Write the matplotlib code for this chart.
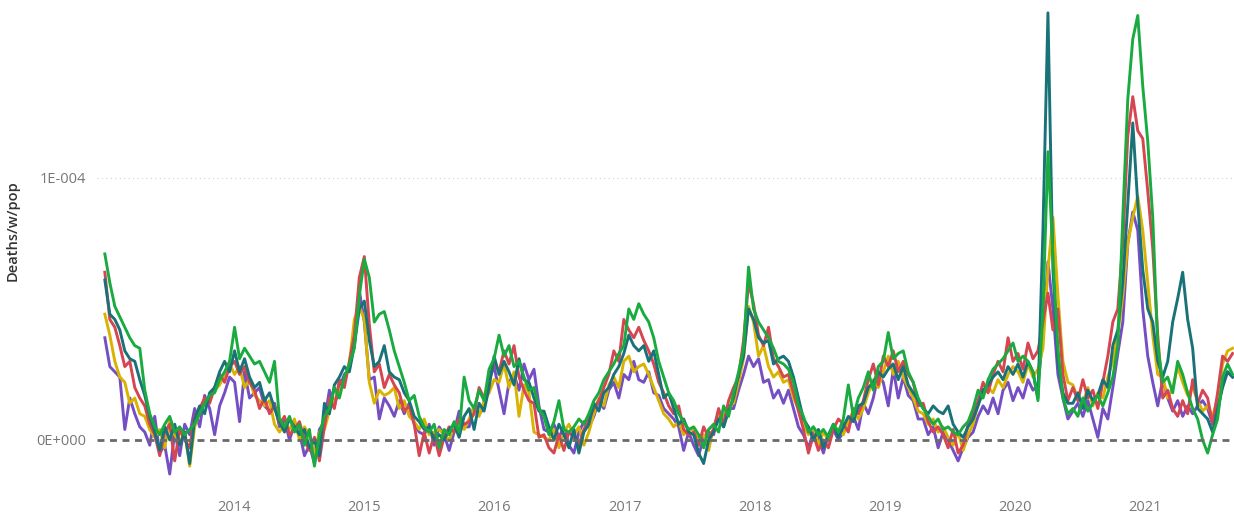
import numpy as np
import pandas as pd
import matplotlib
matplotlib.use("Agg")
import matplotlib.pyplot as plt

# biweekly samples starting first week of 2013, values in units of 1e-5 deaths per week per pop
dates = pd.date_range("2013-01-04", periods=227, freq="14D")

green = [
    7.1, 6.0, 5.1, 4.7, 4.3, 3.9, 3.6, 3.5, 1.9, 1.0,
    0.5, 0.2, 0.6, 0.9, 0.3, 0.5, 0.2, 0.4,
    0.6, 1.0, 1.4, 1.7, 1.8, 2.3, 2.6, 3.0,
    4.3, 3.1, 3.5, 3.2, 2.9, 3.0, 2.6, 2.2, 3.0,
    0.8, 0.5, 0.9, 0.3, 0.6, -0.2, 0.4, -1.0, 0.2,
    0.9, 1.2, 2.0, 1.6, 2.4, 2.9, 3.5,
    5.5, 6.9, 6.2, 4.5, 4.8, 4.9, 4.2, 3.4,
    2.8, 2.2, 1.5, 1.7, 0.9, 0.5, 0.3, 0.6,
    -0.3, 0.4, 0.2, 0.7, 0.3, 2.4,
    1.5, 1.2, 1.9, 1.5, 2.7, 3.1, 4.0, 3.2, 3.6, 2.8, 3.0, 2.4, 1.9, 2.0, 1.2,
    0.9, 0.2, 0.7, 1.5, 0.4, 0.3, 0.5, 0.8, 0.6,
    1.0, 1.5, 1.8, 2.3, 2.6, 2.9, 3.3, 3.6, 5.0, 4.6, 5.2,
    4.8, 4.5, 3.9, 3.0, 2.4, 1.8, 1.5, 1.0, 0.7, 0.4,
    0.5, 0.2, -0.3, 0.4, 0.6, 0.3, 1.3, 0.9,
    1.8, 2.6, 3.5, 6.6, 5.0, 4.5, 4.2, 3.9, 3.5, 3.0, 2.9,
    2.7, 2.2, 1.3, 0.9, 0.3, 0.5, 0.2, 0.4, 0.1, 0.6, 0.3, 0.8, 2.1, 0.9, 1.6,
    2.0, 2.6, 1.9, 2.8, 3.0, 4.1, 3.1, 3.3, 3.4, 2.6, 2.2, 1.6,
    1.2, 0.9, 0.6, 0.8, 0.4, 0.5, 0.3, 0.2, 0.5, 0.7,
    1.2, 1.9, 1.6, 2.3, 2.7, 2.9, 3.1, 3.4, 3.7, 3.0, 3.2, 3.0, 2.6, 1.5,
    5.0, 11.0, 7.0, 3.5, 1.6, 1.0,
    1.2, 0.9, 1.6, 1.1, 1.4, 1.7, 1.3, 1.8, 2.4, 3.6,
    8.5, 13.0, 15.3, 16.2, 13.5, 11.4, 8.5,
    3.6, 2.2, 2.4, 1.8, 3.0, 2.5, 1.8, 1.2, 0.8, 0.0, -0.5, 0.2, 0.8, 2.4, 2.9, 2.5,
]

red = [
    6.4, 4.6, 4.3, 3.6, 2.8, 3.0, 2.0, 1.6, 1.3, 0.6,
    0.2, -0.6, 0.3, 0.6, -0.8, 0.4, 0.0, -0.3,
    0.9, 1.2, 1.6, 1.4, 2.0, 2.5, 2.2, 2.8,
    3.0, 2.5, 2.8, 2.2, 1.9, 1.2, 1.6, 1.0, 1.3,
    0.6, 0.9, 0.2, 0.4, 0.7, 0.0, -0.4, 0.1, -0.8,
    0.5, 1.6, 1.2, 2.3, 2.0, 3.0, 4.0,
    6.2, 7.0, 4.4, 2.6, 2.9, 2.0, 2.5, 2.1,
    1.8, 1.1, 1.3, 0.6, -0.6, 0.3, -0.5, 0.2,
    -0.6, 0.1, 0.5, 0.3, 0.8, 0.6,
    0.7, 1.0, 2.0, 1.6, 2.2, 3.0, 2.6, 3.4, 2.9, 3.6, 2.4, 1.9, 1.5, 1.4, 0.1,
    0.2, -0.3, -0.5, 0.2, -0.4, 0.3, 0.1, -0.2, 0.4,
    0.8, 1.2, 1.5, 2.0, 2.5, 3.4, 3.0, 4.6, 4.2, 3.9, 4.3,
    3.8, 3.4, 2.9, 2.2, 1.8, 1.3, 1.0, 1.3, 0.4, 0.2,
    0.3, -0.2, 0.5, 0.1, 0.4, 1.2, 0.6, 1.5,
    2.0, 2.4, 3.8, 6.0, 5.2, 4.0, 3.6, 4.3, 3.1, 2.8, 2.4,
    2.5, 1.8, 1.1, 0.4, -0.5, 0.2, -0.4, 0.0, -0.3, 0.4, 0.8, 0.6, 0.3, 1.2, 1.0,
    1.5, 2.3, 2.9, 2.1, 3.2, 2.8, 3.4, 2.6, 3.0, 2.5, 2.2, 1.3,
    1.4, 0.7, 0.3, 0.5, 0.2, -0.3, 0.4, -0.5, -0.2, 0.6,
    1.0, 1.5, 2.2, 1.8, 2.5, 3.0, 2.6, 3.9, 3.0, 3.3, 2.7, 3.7, 3.1, 3.4,
    4.5, 5.6, 4.2, 5.0, 2.5, 1.5,
    2.0, 1.5, 2.3, 1.6, 1.9, 1.2, 2.2, 3.2, 4.5, 5.0,
    7.5, 11.6, 13.1, 11.8, 11.5, 9.5, 7.3,
    4.0, 1.6, 1.9, 1.2, 0.9, 1.5, 1.0, 2.3, 1.4, 1.9, 1.6, 0.6, 1.8, 3.2, 3.0, 3.3,
]

teal = [
    6.1, 4.8, 4.6, 4.2, 3.4, 3.1, 3.0, 2.3, 1.7, 0.9,
    0.3, -0.4, 0.5, 0.0, 0.6, -0.2, 0.3, -0.9,
    0.8, 1.3, 1.0, 1.8, 2.0, 2.6, 3.0, 2.6,
    3.4, 2.6, 3.1, 2.4, 2.0, 2.2, 1.5, 1.8, 1.2,
    0.7, 0.3, 0.8, 0.5, 0.2, 0.4, -0.3, 0.0, -0.6,
    1.4, 1.0, 2.1, 2.4, 2.8, 2.6, 3.6,
    5.0, 5.3, 3.8, 2.8, 3.0, 3.6, 2.6, 2.4,
    2.3, 1.8, 1.5, 0.9, 0.7, 0.4, 0.5, 0.0,
    0.2, 0.0, 0.4, 0.6, 0.1, 0.9,
    1.2, 0.4, 1.4, 1.1, 2.0, 3.2, 2.5, 3.0, 2.6, 2.1, 3.1, 2.3, 2.2, 1.6, 1.1,
    1.1, 0.5, 0.0, 0.6, 0.2, -0.3, 0.4, -0.5, 0.3,
    0.6, 1.4, 1.1, 1.8, 2.0, 2.5, 2.8, 3.3, 4.0, 3.6, 3.4,
    3.6, 3.0, 3.4, 2.5, 1.6, 1.8, 1.2, 0.6, 0.8, 0.3,
    0.2, -0.5, -0.9, 0.0, 0.3, 0.8, 0.5, 1.1,
    1.6, 2.5, 3.2, 5.0, 4.6, 3.9, 3.7, 3.8, 2.9, 3.1, 3.2,
    3.0, 2.4, 1.6, 0.8, 0.5, 0.0, 0.4, -0.3, 0.2, 0.6, 0.1, 0.5, 0.9, 0.7, 1.3,
    1.4, 2.0, 2.2, 2.6, 2.4, 2.7, 2.9, 2.3, 2.8, 2.1, 1.8, 1.5,
    1.2, 1.0, 1.3, 1.1, 1.0, 1.3, 0.6, 0.3, 0.1, 0.5,
    0.8, 1.3, 1.9, 2.1, 2.4, 2.6, 2.3, 2.8, 2.5, 2.9, 2.4, 3.0, 2.6, 1.6,
    8.0, 16.3, 6.5, 3.0, 1.8, 1.4,
    1.4, 1.8, 1.2, 1.9, 1.5, 1.7, 2.3, 2.0, 3.6, 4.2,
    6.0, 9.0, 12.1, 9.0, 6.5, 5.0, 4.5,
    3.0, 2.4, 3.0, 4.5, 5.4, 6.4, 4.6, 3.5, 1.2, 1.0, 0.8, 0.3, 1.2, 2.0, 2.6, 2.4,
]

yellow = [
    4.8, 4.0, 3.0, 2.4, 2.2, 1.4, 1.6, 1.0, 0.9, 0.4,
    0.1, 0.4, -0.3, 0.8, 0.2, -0.1, 0.3, -1.0,
    0.5, 1.1, 1.5, 1.6, 1.9, 2.1, 2.5, 2.9,
    2.5, 2.8, 2.0, 2.3, 1.7, 1.5, 1.3, 1.5, 0.6,
    0.3, 0.6, 0.4, 0.8, 0.0, 0.5, 0.2, -0.5, 0.3,
    0.4, 1.1, 1.5, 1.9, 2.2, 2.9, 4.6,
    5.1, 4.6, 2.2, 1.4, 1.9, 1.7, 1.8, 2.0,
    1.2, 1.5, 0.9, 0.7, 0.4, 0.8, 0.2, 0.3,
    0.4, 0.2, 0.0, 0.5, 0.7, 0.4,
    0.8, 1.3, 0.9, 1.5, 1.8, 2.3, 2.2, 2.9, 2.0, 2.6, 0.9, 2.1, 1.8, 0.3, 0.2,
    0.1, 0.0, 0.4, -0.3, 0.3, 0.6, 0.2, 0.5, -0.2,
    0.3, 1.0, 1.6, 1.3, 2.1, 2.4, 2.0, 3.0, 3.2, 2.6, 2.8,
    2.9, 2.5, 2.0, 1.5, 1.0, 0.8, 0.5, 0.7, 0.2, 0.4,
    0.4, 0.1, 0.2, -0.4, 0.5, 1.0, 0.9, 1.3,
    1.4, 2.2, 3.1, 5.1, 4.5, 3.2, 3.6, 2.8, 2.4, 2.6, 2.2,
    2.3, 1.6, 1.2, 0.6, 0.2, 0.5, -0.2, 0.3, 0.0, 0.5, 0.4, 0.2, 0.7, 1.1, 0.8,
    1.2, 1.8, 2.3, 2.0, 2.6, 3.2, 2.5, 3.0, 2.4, 2.0, 1.6, 1.1,
    1.0, 0.6, 0.8, 0.3, 0.5, 0.1, -0.2, 0.3, -0.4, 0.2,
    0.6, 1.4, 1.7, 2.0, 1.8, 2.3, 2.0, 2.5, 2.8, 2.6, 2.2, 2.9, 2.4, 2.7,
    3.5, 6.5, 8.5, 5.5, 3.0, 2.2,
    2.1, 1.6, 1.4, 2.0, 1.3, 1.8, 1.6, 2.4, 3.0, 4.0,
    5.5, 7.5, 8.5, 9.3, 8.0, 6.0, 4.0,
    2.5, 2.4, 1.6, 2.0, 2.8, 2.2, 1.7, 2.0, 1.5, 1.1, 1.3, 0.9, 1.6, 2.9, 3.4, 3.5,
]

purple = [
    3.9, 2.8, 2.6, 2.4, 0.4, 1.6, 1.0, 0.5, 0.3, -0.2,
    0.9, -0.5, -0.2, -1.3, 0.3, -0.6, 0.6, 0.2,
    1.2, 0.5, 1.7, 1.2, 0.2, 1.3, 1.8, 2.4,
    2.2, 0.7, 2.6, 1.6, 1.8, 2.0, 1.3, 1.1, 1.4,
    0.5, 0.8, 0.0, 0.6, 0.3, -0.6, -0.2, -0.9, 0.4,
    0.7, 1.9, 1.3, 2.0, 2.5, 2.7, 3.9,
    5.7, 4.5, 2.3, 2.4, 0.8, 1.6, 1.3, 0.9,
    1.5, 1.0, 1.4, 0.6, 0.3, 0.2, 0.6, -0.2,
    0.5, 0.2, -0.4, 0.3, 1.1, 0.5,
    0.5, 1.3, 1.0, 1.2, 2.3, 2.8, 1.9, 1.0, 2.2, 2.5, 1.9, 2.9, 2.3, 2.7, 1.3,
    0.4, 0.3, 0.6, 0.1, 0.5, -0.2, -0.5, 0.3, 0.7,
    0.5, 0.9, 1.5, 1.2, 1.9, 2.2, 1.6, 2.5, 2.3, 3.0, 2.3,
    2.2, 2.6, 1.8, 1.7, 1.2, 1.0, 0.8, 0.5, -0.4, 0.3,
    -0.2, -0.6, 0.1, 0.3, 0.2, 1.1, 0.5, 1.2,
    1.2, 1.9, 2.5, 3.2, 2.8, 3.1, 2.2, 2.3, 1.6, 1.9, 1.4,
    1.9, 1.2, 0.5, 0.2, -0.3, 0.3, 0.1, -0.5, 0.2, 0.4, 0.0, 0.3, 0.5, 0.9, 0.4,
    1.4, 1.0, 1.6, 2.5, 2.2, 1.3, 2.7, 1.6, 2.4, 1.7, 1.5, 0.8,
    0.8, 0.2, 0.5, -0.3, 0.3, 0.0, -0.4, -0.8, -0.3, 0.1,
    0.3, 0.9, 1.3, 1.0, 1.6, 1.0, 1.9, 2.2, 1.5, 2.0, 1.6, 2.3, 1.9, 2.1,
    4.0, 6.8, 5.0, 2.5, 1.6, 0.8,
    1.1, 1.4, 0.9, 1.5, 0.8, 0.1, 1.2, 0.8, 2.0, 3.3,
    4.5, 7.5, 8.7, 8.0, 5.0, 3.2, 2.2,
    1.3, 2.3, 1.6, 1.1, 1.5, 0.9, 1.3, 1.0, 1.3, 1.5, 1.2, 0.6, 1.0, 2.2, 2.6, 2.4,
]

year_ticks = ["2014", "2015", "2016", "2017", "2018", "2019", "2020", "2021"]

series = [
    ("purple", purple, "#744EC2"),
    ("yellow", yellow, "#D9B300"),
    ("red", red, "#D64550"),
    ("teal", teal, "#197278"),
    ("green", green, "#1AAB40"),
]

plt.rcParams["font.family"] = ["Open Sans", "DejaVu Sans"]

fig = plt.figure(figsize=(12.34, 5.15), dpi=100)
ax = fig.add_axes([97 / 1234, 25 / 515, 1137 / 1234, 485 / 515])

for name, vals, col in series:
    ax.plot(dates, np.array(vals) * 1e-5, color=col, lw=2.1, solid_joinstyle="round", zorder=3)

# zero reference line and light gridline
ax.axhline(0, color="#6a6a6a", lw=2.0, ls=(0, (2.5, 2.0)), zorder=5)
ax.axhline(1e-4, color="#d0d0d0", lw=0.8, ls=(0, (1, 3)), zorder=1)

ax.set_xlim(dates[0] - pd.Timedelta(days=22), dates[-1] + pd.Timedelta(days=4))
ax.set_ylim(-0.191e-4, 1.66e-4)

ax.set_yticks([0, 1e-4])
ax.set_yticklabels(["0E+000", "1E-004"])
ax.set_xticks([pd.Timestamp(y + "-01-01") for y in year_ticks])
ax.set_xticklabels(year_ticks)
ax.tick_params(axis="both", length=0, labelsize=10.5, colors="#777777")
ax.tick_params(axis="x", pad=7)
ax.tick_params(axis="y", pad=8)

ax.set_ylabel("Deaths/w/pop", fontsize=10.5, color="#333333", fontweight="semibold")
ax.yaxis.set_label_coords(-0.0677, 0.534)

for s in ax.spines.values():
    s.set_visible(False)

fig.savefig("out.png", dpi=100, facecolor="white")
